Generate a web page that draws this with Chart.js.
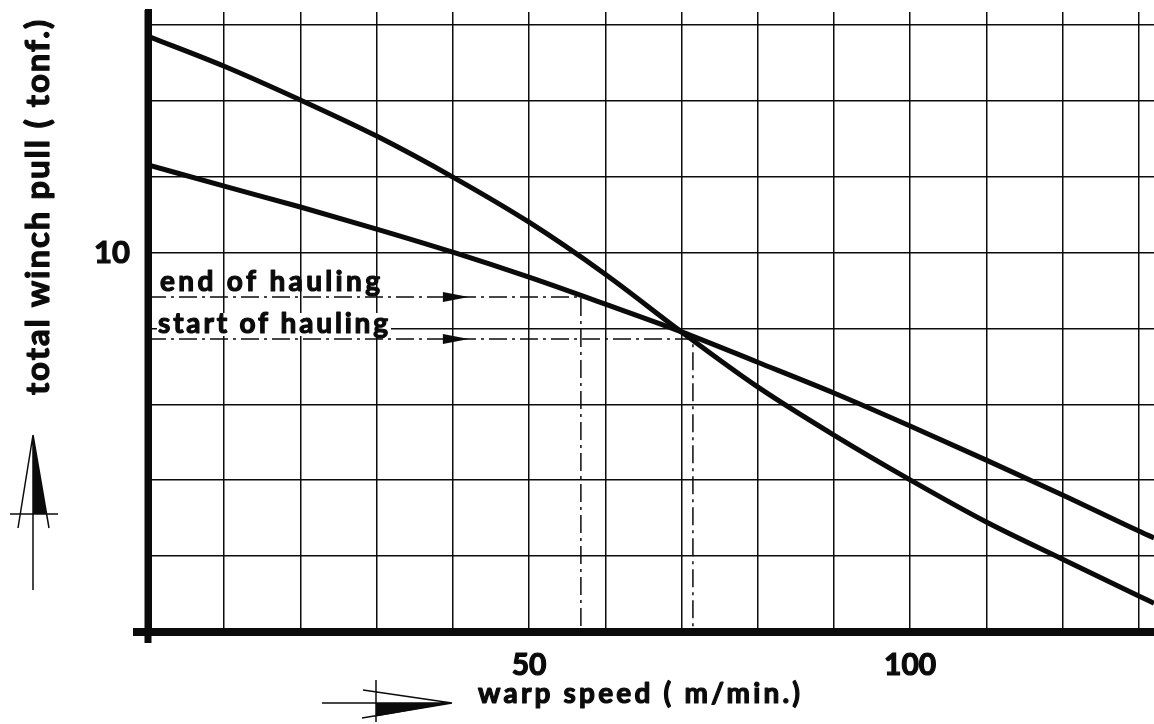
<!DOCTYPE html>
<html>
<head>
<meta charset="utf-8">
<script src="https://cdn.jsdelivr.net/npm/chart.js@4"></script>
<style>
  body { margin: 0; background: #fff; }
  canvas { display: block; }
</style>
</head>
<body>
<canvas id="winch" width="1154" height="724"></canvas>
<script>
// warp speed (m/min.) and total winch pull (tonf.)
const speeds = [0, 10, 20, 30, 40, 50, 60, 70, 80, 90, 100, 110, 120, 130, 132];
const pullSteep = [15.70, 14.91, 14.02, 13.07, 11.99, 10.80, 9.43, 7.91, 6.46, 5.19, 4.01, 2.90, 1.92, 0.95, 0.76];
const pullFlat = [12.31, 11.75, 11.20, 10.62, 10.01, 9.35, 8.64, 7.91, 7.11, 6.30, 5.43, 4.53, 3.61, 2.66, 2.48];

// hauling markers
const endHaulSpeed = [0, 56.8, 56.8];
const endHaulPull = [8.83, 8.83, 0];
const startHaulSpeed = [0, 71.5, 71.5];
const startHaulPull = [7.72, 7.72, 0];
const arrowTipSpeed = 42.1;

const xTicks = [0, 10, 20, 30, 40, 50, 60, 70, 80, 90, 100, 110, 120, 130];
const yTicks = [0, 2, 4, 6, 8, 10, 12, 14, 16];
const xLabels = [50, 100];
const yLabels = [10];

const INK = '#0b0b0b';
const FONT = 'Lato, "DejaVu Sans", sans-serif';

const pts = (xs, ys) => xs.map((x, i) => ({ x: x, y: ys[i] }));

const curve = (data) => ({
  data: data,
  borderColor: INK,
  borderWidth: 5,
  pointRadius: 0,
  cubicInterpolationMode: 'monotone',
  fill: false,
});

const marker = (data) => ({
  data: data,
  borderColor: INK,
  borderWidth: 1.5,
  borderDash: [18, 5, 3, 5],
  pointRadius: 0,
  tension: 0,
  fill: false,
});

// heavy text stretched with letter spacing to a given width
function spaced(ctx, text, x, y, width) {
  ctx.letterSpacing = '0px';
  const w = ctx.measureText(text).width;
  const gap = Math.max(0, (width - w) / (text.length - 1));
  ctx.letterSpacing = gap + 'px';
  ctx.textAlign = 'left';
  ctx.lineWidth = 1.2;
  ctx.lineJoin = 'round';
  ctx.strokeText(text, x, y);
  ctx.fillText(text, x, y);
  ctx.letterSpacing = '0px';
}

const drawing = {
  id: 'drawing',
  afterDraw(chart) {
    const ctx = chart.ctx;
    const xs = chart.scales.x, ys = chart.scales.y;
    const ox = xs.getPixelForValue(0), oy = ys.getPixelForValue(0);
    ctx.save();
    ctx.fillStyle = INK;
    ctx.strokeStyle = INK;
    ctx.lineCap = 'butt';

    // axis cross at the origin
    ctx.lineWidth = 8;
    ctx.beginPath();
    ctx.moveTo(133, oy); ctx.lineTo(ox, oy);
    ctx.stroke();
    ctx.lineWidth = 7;
    ctx.beginPath();
    ctx.moveTo(ox, 10); ctx.lineTo(ox, 643);
    ctx.stroke();

    // arrow heads on the hauling lines
    [endHaulPull[0], startHaulPull[0]].forEach(v => {
      const tx = xs.getPixelForValue(arrowTipSpeed), ty = ys.getPixelForValue(v);
      ctx.beginPath();
      ctx.moveTo(tx, ty);
      ctx.lineTo(tx - 26, ty - 5);
      ctx.lineTo(tx - 26, ty + 5);
      ctx.closePath();
      ctx.fill();
    });

    // hauling texts
    ctx.font = 'bold 28px ' + FONT;
    ctx.textBaseline = 'middle';
    spaced(ctx, 'end of hauling', 160, 282, 220);
    ctx.fillStyle = '#fff';
    ctx.fillRect(157, 313, 234, 23);
    ctx.fillStyle = INK;
    spaced(ctx, 'start of hauling', 158, 324, 230);

    // axis titles
    ctx.font = 'bold 28px ' + FONT;
    spaced(ctx, 'warp speed ( m/min.)', 478, 694, 322);
    ctx.save();
    ctx.translate(38, 395);
    ctx.rotate(-Math.PI / 2);
    ctx.font = 'bold 33px ' + FONT;
    spaced(ctx, 'total winch pull ( tonf.)', 0, 0, 375);
    ctx.restore();

    // y title arrow
    ctx.lineWidth = 1.5;
    ctx.beginPath();
    ctx.moveTo(33, 435); ctx.lineTo(33, 590);
    ctx.moveTo(33, 435); ctx.lineTo(18, 528);
    ctx.moveTo(33, 435); ctx.lineTo(49, 528);
    ctx.moveTo(10, 514); ctx.lineTo(58, 514);
    ctx.stroke();
    ctx.beginPath();
    ctx.moveTo(33, 435); ctx.lineTo(33, 514); ctx.lineTo(46.6, 514);
    ctx.closePath();
    ctx.fill();

    // x title arrow
    ctx.beginPath();
    ctx.moveTo(322, 703); ctx.lineTo(452, 703);
    ctx.moveTo(452, 703); ctx.lineTo(363, 690);
    ctx.moveTo(452, 703); ctx.lineTo(362, 718);
    ctx.moveTo(376, 680); ctx.lineTo(376, 722);
    ctx.stroke();
    ctx.beginPath();
    ctx.moveTo(452, 703); ctx.lineTo(376, 703); ctx.lineTo(376, 716.5);
    ctx.closePath();
    ctx.fill();

    ctx.restore();
  }
};

new Chart(document.getElementById('winch'), {
  type: 'line',
  data: {
    datasets: [
      curve(pts(speeds, pullSteep)),
      curve(pts(speeds, pullFlat)),
      marker(pts(endHaulSpeed, endHaulPull)),
      marker(pts(startHaulSpeed, startHaulPull)),
    ],
  },
  options: {
    responsive: false,
    animation: false,
    layout: { padding: { top: 12, right: 0, bottom: 0, left: 0 } },
    plugins: { legend: { display: false }, tooltip: { enabled: false } },
    scales: {
      x: {
        type: 'linear',
        min: 0,
        max: 132,
        afterBuildTicks: (scale) => { scale.ticks = xTicks.map(v => ({ value: v })); },
        afterFit: (scale) => {
          scale.height = 92;
          scale.paddingLeft = 0;
          scale.paddingRight = 0;
        },
        grid: { color: INK, lineWidth: 1.5, drawTicks: false },
        border: { display: true, color: INK, width: 8 },
        ticks: {
          color: INK,
          padding: 15,
          maxRotation: 0,
          autoSkip: false,
          textStrokeColor: INK,
          textStrokeWidth: 1.2,
          font: { family: FONT, size: 30, weight: 'bold' },
          callback: (v) => xLabels.includes(v) ? String(v) : '',
        },
      },
      y: {
        type: 'linear',
        min: 0,
        max: 16.34,
        afterBuildTicks: (scale) => { scale.ticks = yTicks.map(v => ({ value: v })); },
        afterFit: (scale) => {
          scale.width = 148;
          scale.paddingTop = 0;
          scale.paddingBottom = 0;
        },
        grid: { color: INK, lineWidth: 1.5, drawTicks: false },
        border: { display: true, color: INK, width: 7 },
        ticks: {
          color: INK,
          padding: 18,
          autoSkip: false,
          textStrokeColor: INK,
          textStrokeWidth: 1.2,
          font: { family: FONT, size: 31, weight: 'bold' },
          callback: (v) => yLabels.includes(v) ? String(v) : '',
        },
      },
    },
  },
  plugins: [drawing],
});
</script>
</body>
</html>
